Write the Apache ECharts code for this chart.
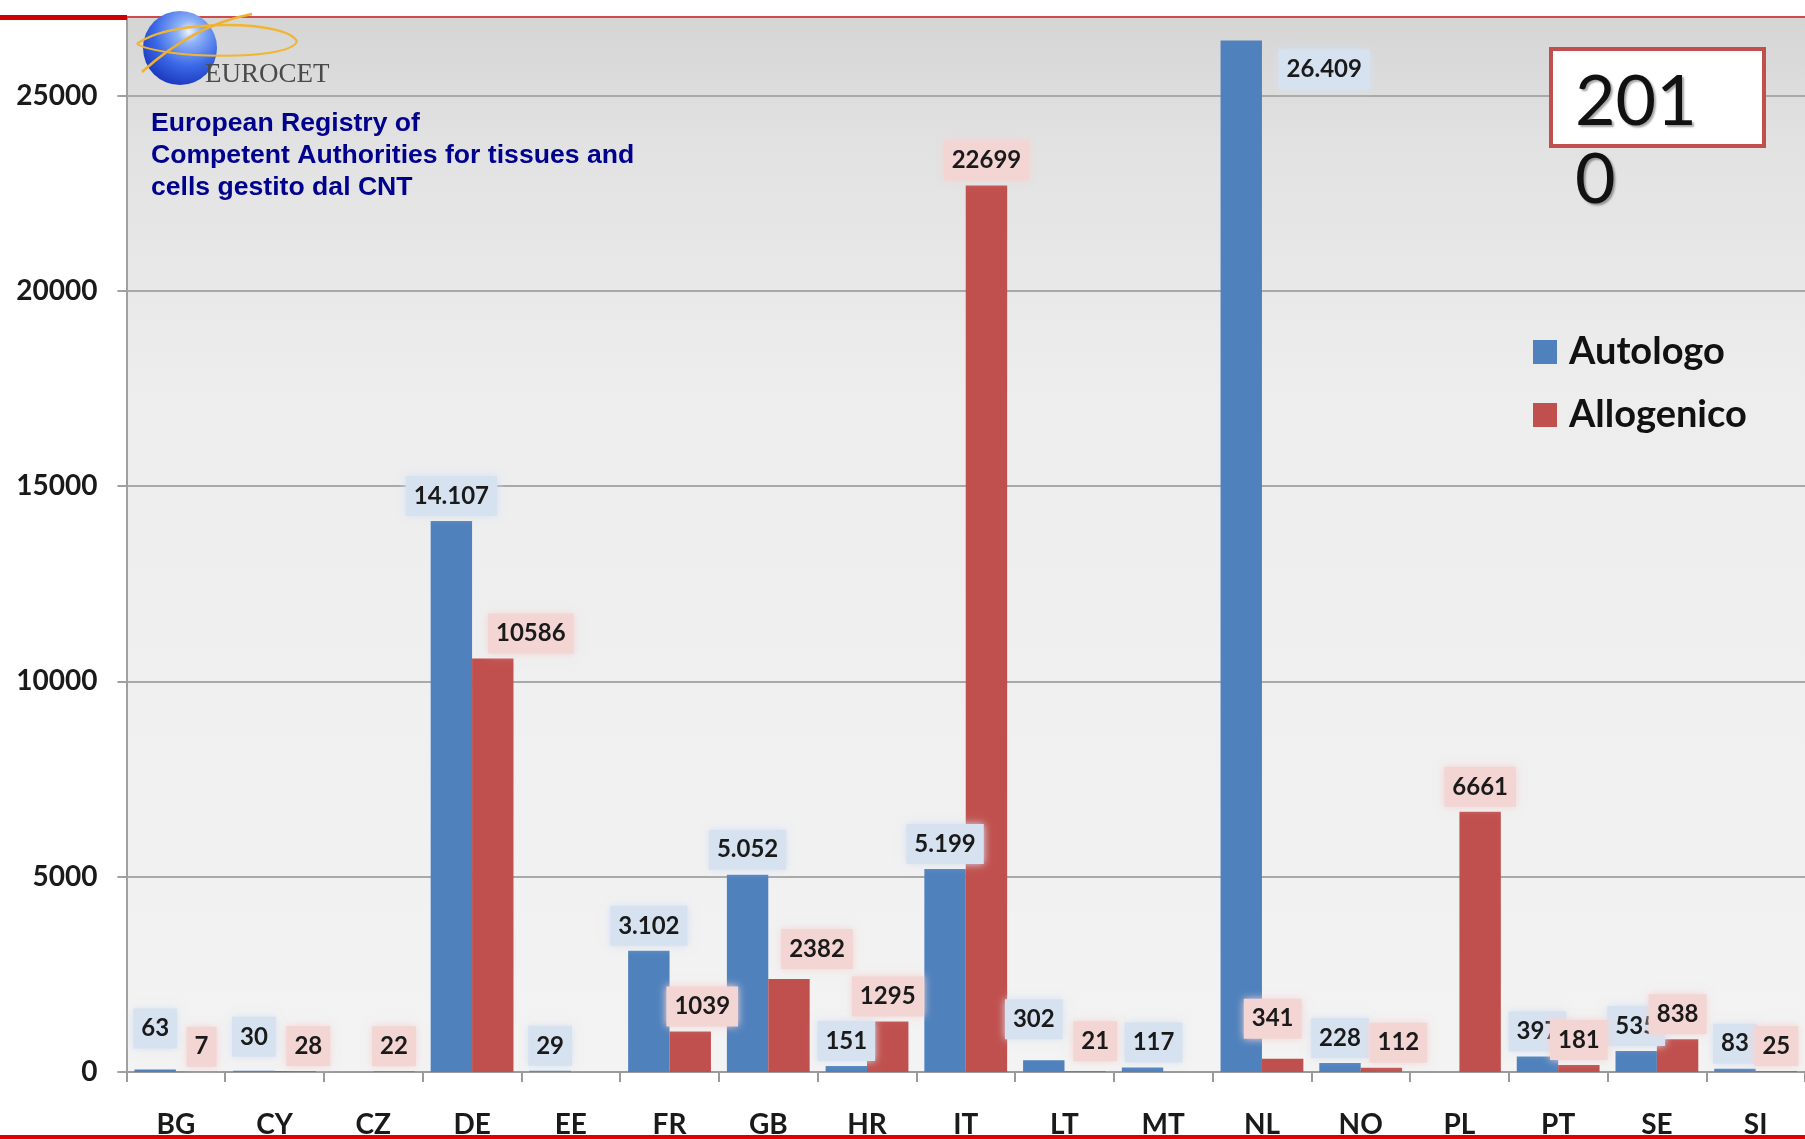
<!DOCTYPE html>
<html>
<head>
<meta charset="utf-8">
<script src="https://cdn.jsdelivr.net/npm/echarts@6/dist/echarts.min.js"></script>
<style>
html,body{margin:0;padding:0;background:#ffffff;}
#chart{width:1805px;height:1139px;}
</style>
</head>
<body>
<div id="chart"></div>
<script>
// ---- data ----
const categories = ['BG','CY','CZ','DE','EE','FR','GB','HR','IT','LT','MT','NL','NO','PL','PT','SE','SI'];
const autologo   = [63, 30, null, 14107, 29, 3102, 5052, 151, 5199, 302, 117, 26409, 228, null, 397, 535, 83];
const allogenico = [7, 28, 22, 10586, null, 1039, 2382, 1295, 22699, 21, null, 341, 112, 6661, 181, 838, 25];
const seriesNames = ['Autologo', 'Allogenico'];
const yTickStep = 5000;
const yTop = 27010;
const titleLines = ['European Registry of', 'Competent Authorities for tissues and', 'cells gestito dal CNT'];
const yearText = '201\n0';

// ---- label nudges (layout only, in px) ----
const autoNudge = {BG:[0,-16], CY:[0,-9], LT:[-10,-16], MT:[11,0], NL:[83,54]};
const alloNudge = {BG:[5,0], CY:[13,0], DE:[38,0], FR:[12,0], GB:[28,-5], LT:[10,-5], NL:[-10,-15], NO:[17,0]};

const BLUE = '#4f81bd', RED = '#c0504d';
const BLUE_BG = '#d7e2f1', RED_BG = '#f3d5d4';

function fmtDots(v){
  return String(v).replace(/\B(?=(\d{3})+(?!\d))/g, '.');
}
function buildData(values, nudge){
  return values.map((v, i) => {
    const n = nudge[categories[i]];
    if (v == null) return {value: null};
    return n ? {value: v, label: {offset: n}} : {value: v};
  });
}
function labelStyle(bg, fmt){
  return {
    show: true, position: 'top', distance: 5,
    formatter: p => p.value == null ? '' : fmt(p.value),
    fontFamily: 'Lato', fontWeight: 'bold', fontSize: 24, lineHeight: 24,
    color: '#1a1a1a',
    backgroundColor: bg, padding: [8, 8, 8, 8],
    shadowBlur: 8, shadowColor: bg
  };
}

const chart = echarts.init(document.getElementById('chart'), null, {renderer: 'canvas'});
const option = {
  animation: false,
  backgroundColor: '#ffffff',
  grid: {
    left: 126.5, right: -7, top: 17, bottom: 60,
    show: true, borderWidth: 0,
    backgroundColor: new echarts.graphic.LinearGradient(0, 0, 0, 1, [
      {offset: 0, color: '#d5d5d5'},
      {offset: 0.12, color: '#e2e2e2'},
      {offset: 0.35, color: '#ededed'},
      {offset: 1, color: '#f3f3f3'}
    ])
  },
  legend: {
    orient: 'vertical', left: 1528, top: 327,
    itemWidth: 24, itemHeight: 24, itemGap: 23,
    icon: 'rect',
    data: seriesNames,
    textStyle: {fontFamily: 'Lato', fontWeight: 'bold', fontSize: 38, lineHeight: 40, color: '#111', padding: [0, 0, 0, 7]}
  },
  xAxis: {
    type: 'category', data: categories,
    axisLine: {lineStyle: {color: '#9a9a9a', width: 2}},
    axisTick: {show: true, length: 10, lineStyle: {color: '#9a9a9a', width: 2}},
    axisLabel: {margin: 39, fontFamily: 'Lato', fontWeight: 'bold', fontSize: 28, color: '#1a1a1a'}
  },
  yAxis: {
    type: 'value', min: 0, max: yTop, interval: yTickStep,
    axisLine: {show: true, lineStyle: {color: '#a0a0a0', width: 2}},
    axisTick: {show: true, length: 9, lineStyle: {color: '#a0a0a0', width: 2}},
    axisLabel: {margin: 29, showMaxLabel: false, formatter: v => String(v),
      fontFamily: 'Lato', fontWeight: 'bold', fontSize: 28, color: '#1a1a1a'},
    splitLine: {show: true, lineStyle: {color: '#a9a9a9', width: 2}}
  },
  series: [
    {
      name: seriesNames[0], type: 'bar', barWidth: 41.4, barGap: '0%',
      itemStyle: {color: BLUE},
      data: buildData(autologo, autoNudge),
      label: labelStyle(BLUE_BG, fmtDots)
    },
    {
      name: seriesNames[1], type: 'bar', barWidth: 41.4, barGap: '0%',
      itemStyle: {color: RED},
      data: buildData(allogenico, alloNudge),
      label: labelStyle(RED_BG, v => String(v))
    }
  ],
  graphic: [
    // top red lines
    {type: 'rect', z: 100, shape: {x: 127, y: 16, width: 1700, height: 2}, style: {fill: '#cf4a4a'}},
    {type: 'rect', z: 100, shape: {x: 0, y: 15, width: 127, height: 5}, style: {fill: '#d00000'}},
    // bottom red bar
    {type: 'rect', z: 100, shape: {x: 0, y: 1135, width: 1805, height: 4}, style: {fill: '#e00000'}},
    // logo globe
    {type: 'circle', z: 101, shape: {cx: 180, cy: 48, r: 37},
      style: {fill: new echarts.graphic.RadialGradient(0.62, 0.28, 0.78, [
        {offset: 0, color: '#eef4ff'},
        {offset: 0.2, color: '#8fb2f7'},
        {offset: 0.6, color: '#3a68e6'},
        {offset: 1, color: '#1834b8'}
      ])}},
    {type: 'bezierCurve', z: 102, shape: {x1: 137, y1: 44, x2: 297, y2: 42, cpx1: 170, cpy1: 18, cpx2: 290, cpy2: 20},
      style: {stroke: '#f2b531', lineWidth: 2.5, fill: 'none'}},
    {type: 'bezierCurve', z: 102, shape: {x1: 137, y1: 44, x2: 297, y2: 42, cpx1: 160, cpy1: 58, cpx2: 285, cpy2: 62},
      style: {stroke: '#f2b531', lineWidth: 2, fill: 'none'}},
    {type: 'bezierCurve', z: 102, shape: {x1: 142, y1: 72, x2: 252, y2: 14, cpx1: 175, cpy1: 42, cpx2: 210, cpy2: 22},
      style: {stroke: '#f0b030', lineWidth: 2.5, fill: 'none'}},
    {type: 'text', z: 103, style: {x: 205, y: 88, text: 'EUROCET', textVerticalAlign: 'bottom',
      font: '27px "Liberation Serif", "DejaVu Serif", serif', fill: '#4a4a4a'}},
    // blue title
    {type: 'text', z: 103, style: {x: 151, y: 108, text: titleLines.join('\n'), textVerticalAlign: 'top',
      font: 'bold 26.6px "Liberation Sans", Arial, sans-serif', lineHeight: 32, fill: '#00008e'}},
    // year box
    {type: 'rect', z: 103, shape: {x: 1551, y: 49, width: 213, height: 97},
      style: {fill: '#ffffff', stroke: '#c0504d', lineWidth: 4}},
    {type: 'text', z: 104, style: {x: 1575, y: 63, text: yearText, textVerticalAlign: 'top',
      font: '70px Lato, sans-serif', lineHeight: 78, fill: '#111111',
      textShadowColor: 'rgba(0,0,0,0.35)', textShadowOffsetX: 2, textShadowOffsetY: 2, textShadowBlur: 2}}
  ]
};
chart.setOption(option);
</script>
</body>
</html>
